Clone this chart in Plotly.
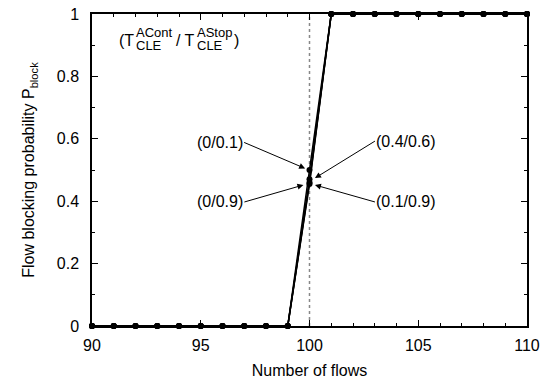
import plotly.graph_objects as go

# ---- data ----
flows = [90, 91, 92, 93, 94, 95, 96, 97, 98, 99, 100,
         101, 102, 103, 104, 105, 106, 107, 108, 109, 110]
p_0_01 = [0, 0, 0, 0, 0, 0, 0, 0, 0, 0, 0.50, 1, 1, 1, 1, 1, 1, 1, 1, 1, 1]
p_0_09 = [0, 0, 0, 0, 0, 0, 0, 0, 0, 0, 0.455, 1, 1, 1, 1, 1, 1, 1, 1, 1, 1]
p_04_06 = [0, 0, 0, 0, 0, 0, 0, 0, 0, 0, 0.47, 1, 1, 1, 1, 1, 1, 1, 1, 1, 1]
p_01_09 = [0, 0, 0, 0, 0, 0, 0, 0, 0, 0, 0.46, 1, 1, 1, 1, 1, 1, 1, 1, 1, 1]
series = [("(0/0.1)", p_0_01), ("(0/0.9)", p_0_09),
          ("(0.4/0.6)", p_04_06), ("(0.1/0.9)", p_01_09)]
x_ticks = [90, 95, 100, 105, 110]
y_ticks = [0, 0.2, 0.4, 0.6, 0.8, 1]
y_tick_labels = ["0", "0.2", "0.4", "0.6", "0.8", "1"]

W, H = 547, 382
L, R, T, B = 92, 20, 14, 56
PW, PH = W - L - R, H - T - B
FONT = "Liberation Sans, Arial, sans-serif"


def px(xp):
    return (xp - L) / PW


def py(yp):
    return (H - B - yp) / PH


fig = go.Figure()
for name, vals in series:
    fig.add_trace(go.Scatter(
        x=flows, y=vals, mode="lines+markers", name=name,
        line=dict(color="black", width=1.5),
        marker=dict(color="black", size=6),
        cliponaxis=False, showlegend=False))

fig.add_shape(type="line", xref="x", yref="y", x0=100, x1=100, y0=0, y1=1,
              line=dict(color="#888888", width=1.5, dash="dot"), layer="below")

ann = []
# labelled arrows: text, head x, head y, tail dx, tail dy, anchor
arrows = [("(0/0.1)", 99.8, 0.505, -61, -26, "right"),
          ("(0/0.9)", 99.72, 0.452, -59, 17, "right"),
          ("(0.4/0.6)", 100.25, 0.474, 60, -37, "left"),
          ("(0.1/0.9)", 100.25, 0.452, 60, 17, "left")]
for t, hx, hy, dx, dy, anc in arrows:
    ann.append(dict(x=hx, y=hy, xref="x", yref="y", ax=dx, ay=dy, text=t,
                    xanchor=anc, yanchor="middle", borderpad=0,
                    showarrow=True, arrowhead=2, arrowsize=1.2, arrowwidth=1,
                    arrowcolor="black",
                    font=dict(size=16, color="black", family=FONT)))

# stacked super/subscript label
pieces = [("(T", 135, 40, "right", 16), ("ACont", 135, 32, "left", 13),
          ("CLE", 135, 46, "left", 13), ("/ T", 196, 40, "right", 16),
          ("AStop", 196, 32, "left", 13), ("CLE", 196, 46, "left", 13),
          (")", 233, 40, "left", 16)]
for t, xp, yp, anc, fs in pieces:
    ann.append(dict(x=px(xp), y=py(yp), xref="paper", yref="paper", text=t,
                    showarrow=False, xanchor=anc, yanchor="middle",
                    borderpad=0,
                    font=dict(size=fs, color="black", family=FONT)))

fig.update_layout(
    width=W, height=H,
    margin=dict(l=L, r=R, t=T, b=B, autoexpand=False),
    paper_bgcolor="white", plot_bgcolor="white",
    font=dict(family=FONT, size=16, color="black"),
    annotations=ann,
)
fig.update_xaxes(
    range=[90, 110], tickvals=x_ticks, ticks="inside", ticklen=6,
    tickwidth=1, tickcolor="black", showline=True, linecolor="black",
    linewidth=1.5, mirror="allticks", showgrid=False, zeroline=False,
    minor=dict(dtick=1, ticks="inside", ticklen=3, tickcolor="black"),
    title=dict(text="Number of flows", font=dict(size=16), standoff=12),
    tickfont=dict(size=16), ticklabelstandoff=4)
fig.update_yaxes(
    range=[0, 1], tickvals=y_ticks, ticktext=y_tick_labels, ticks="inside",
    ticklen=6, tickwidth=1, tickcolor="black", showline=True,
    linecolor="black", linewidth=1.5, mirror="allticks", showgrid=False,
    zeroline=False,
    minor=dict(dtick=0.1, ticks="inside", ticklen=3, tickcolor="black"),
    title=dict(text="Flow blocking probability P<sub>block</sub>",
               font=dict(size=16), standoff=18),
    tickfont=dict(size=16), ticklabelstandoff=8)

fig.write_html("out.html")
